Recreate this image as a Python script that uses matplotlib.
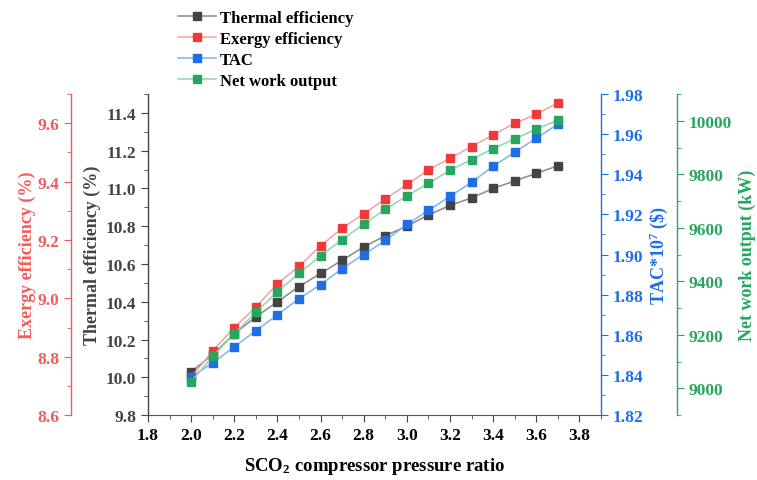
import matplotlib
matplotlib.use("Agg")
import matplotlib.pyplot as plt
from matplotlib.ticker import MultipleLocator
from matplotlib.lines import Line2D

# ─── data ────────────────────────────────────────────────────────────────────

pressure_ratio = [2.0, 2.1, 2.2, 2.3, 2.4, 2.5, 2.6, 2.7, 2.8,
                  2.9, 3.0, 3.1, 3.2, 3.3, 3.4, 3.5, 3.6, 3.7]

thermal_eff = [10.03, 10.12, 10.23, 10.32, 10.40, 10.48, 10.55, 10.62, 10.69,
               10.75, 10.80, 10.86, 10.91, 10.95, 11.00, 11.04, 11.08, 11.12]

exergy_eff = [8.73, 8.82, 8.90, 8.97, 9.05, 9.11, 9.18, 9.24, 9.29,
              9.34, 9.39, 9.44, 9.48, 9.52, 9.56, 9.60, 9.63, 9.67]

tac = [1.839, 1.846, 1.854, 1.862, 1.870, 1.878, 1.885, 1.893, 1.900,
       1.907, 1.915, 1.922, 1.929, 1.936, 1.944, 1.951, 1.958, 1.965]

net_work = [9025, 9119, 9204, 9284, 9361, 9430, 9495, 9556, 9614,
            9669, 9719, 9766, 9815, 9855, 9896, 9932, 9969, 10002]

# ─── style ───────────────────────────────────────────────────────────────────

plt.rcParams["font.family"] = "Liberation Serif"
plt.rcParams["font.weight"] = "bold"
plt.rcParams["mathtext.fontset"] = "custom"
plt.rcParams["mathtext.rm"] = "Liberation Serif:bold"
plt.rcParams["mathtext.bf"] = "Liberation Serif:bold"
plt.rcParams["mathtext.it"] = "Liberation Serif:bold"

FS_TICK = 12.5
FS_LABEL = 13
FS_LEG = 12

SERIES = [
    # (label, marker colour, line colour)
    ("Thermal efficiency", "#444444", "#8a8a8a"),
    ("Exergy efficiency",  "#f03a3a", "#f7a0a0"),
    ("TAC",                "#1f6ee6", "#80b2f2"),
    ("Net work output",    "#27a65e", "#92d4ae"),
]
AX_COLORS = {"thermal": "#444444", "exergy": "#f55a5a",
             "tac": "#1f6ee6", "net": "#27a65e"}

fig = plt.figure(figsize=(7.57, 4.81), dpi=100)
ax = fig.add_axes([0.1955, 0.135, 0.5985, 0.6675])

ax_ex = ax.twinx()
ax_tac = ax.twinx()
ax_net = ax.twinx()

# exergy axis on far left
ax_ex.spines["left"].set_position(("axes", -0.170))
ax_ex.spines["left"].set_visible(True)
ax_ex.yaxis.set_label_position("left")
ax_ex.yaxis.set_ticks_position("left")

# net work axis on far right
ax_net.spines["right"].set_position(("axes", 1.168))

for a in (ax, ax_ex, ax_tac, ax_net):
    a.spines["top"].set_visible(False)
    a.patch.set_visible(False)
ax.spines["right"].set_visible(False)
for a in (ax_ex, ax_tac, ax_net):
    a.spines["bottom"].set_visible(False)
ax_ex.spines["right"].set_visible(False)
ax_tac.spines["left"].set_visible(False)
ax_net.spines["left"].set_visible(False)

# ─── plot ────────────────────────────────────────────────────────────────────

series_axes = [(ax, thermal_eff), (ax_ex, exergy_eff), (ax_tac, tac), (ax_net, net_work)]
handles = []
for (label, mc, lc), (a, vals) in zip(SERIES, series_axes):
    a.plot(pressure_ratio, vals, color=lc, linewidth=1.1, zorder=2)
    a.plot(pressure_ratio, vals, linestyle="none", marker="s", markersize=5.6,
           markerfacecolor=mc, markeredgecolor=mc, zorder=3)
    handles.append(Line2D([], [], color=lc, linewidth=1.1, marker="s", markersize=5.6,
                          markerfacecolor=mc, markeredgecolor=mc, label=label))

# ─── axes ────────────────────────────────────────────────────────────────────

ax.set_xlim(1.8, 3.9)
ax.xaxis.set_major_locator(MultipleLocator(0.2))
ax.xaxis.set_minor_locator(MultipleLocator(0.1))
ax.set_xlabel("SCO$_\\mathregular{2}$ compressor pressure ratio", fontsize=FS_LABEL + 0.5,
              fontweight="bold", labelpad=9)

ax.set_ylim(9.8, 11.5)
ax.yaxis.set_major_locator(MultipleLocator(0.2))
ax.yaxis.set_minor_locator(MultipleLocator(0.1))
ax.set_ylabel("Thermal efficiency (%)", color=AX_COLORS["thermal"], fontsize=FS_LABEL,
              fontweight="bold", labelpad=3)

ax_ex.set_ylim(8.6, 9.7)
ax_ex.yaxis.set_major_locator(MultipleLocator(0.2))
ax_ex.yaxis.set_minor_locator(MultipleLocator(0.1))
ax_ex.set_ylabel("Exergy efficiency (%)", color=AX_COLORS["exergy"], fontsize=FS_LABEL,
                 fontweight="bold", labelpad=1)

ax_tac.set_ylim(1.82, 1.98)
ax_tac.yaxis.set_major_locator(MultipleLocator(0.02))
ax_tac.yaxis.set_minor_locator(MultipleLocator(0.01))
ax_tac.yaxis.set_major_formatter(plt.FormatStrFormatter("%.2f"))
ax_tac.set_ylabel("TAC*10$^\\mathregular{7}$ (\\$)", color=AX_COLORS["tac"], fontsize=FS_LABEL,
                  fontweight="bold", labelpad=3)

ax_net.set_ylim(8900, 10100)
ax_net.yaxis.set_major_locator(MultipleLocator(200))
ax_net.yaxis.set_minor_locator(MultipleLocator(100))
ax_net.set_ylabel("Net work output (kW)", color=AX_COLORS["net"], fontsize=FS_LABEL,
                  fontweight="bold", labelpad=5)

ax.tick_params(axis="x", which="both", direction="out", colors="#444444",
               labelcolor="black", labelsize=FS_TICK)
ax.tick_params(axis="x", which="major", length=5)
ax.tick_params(axis="x", which="minor", length=3)
ax.spines["bottom"].set_color("#555555")

for a, key, side in ((ax, "thermal", "left"), (ax_ex, "exergy", "left"),
                     (ax_tac, "tac", "right"), (ax_net, "net", "right")):
    c = AX_COLORS[key]
    a.spines[side].set_color(c)
    a.spines[side].set_linewidth(1.0)
    a.tick_params(axis="y", which="both", colors=c, labelcolor=c, labelsize=FS_TICK,
                  direction="out")
    a.tick_params(axis="y", which="major", length=5)
    a.tick_params(axis="y", which="minor", length=3)
    for t in a.get_yticklabels():
        t.set_fontweight("bold")
for t in ax.get_xticklabels():
    t.set_fontweight("bold")

# ─── legend ──────────────────────────────────────────────────────────────────

fig.legend(handles=handles, loc="upper left", bbox_to_anchor=(0.218, 1.004),
           frameon=False, handlelength=2.3, handletextpad=0.25,
           labelspacing=0.3, borderpad=0.25,
           prop={"weight": "bold", "size": FS_LEG})

fig.savefig("out.png", dpi=100)
